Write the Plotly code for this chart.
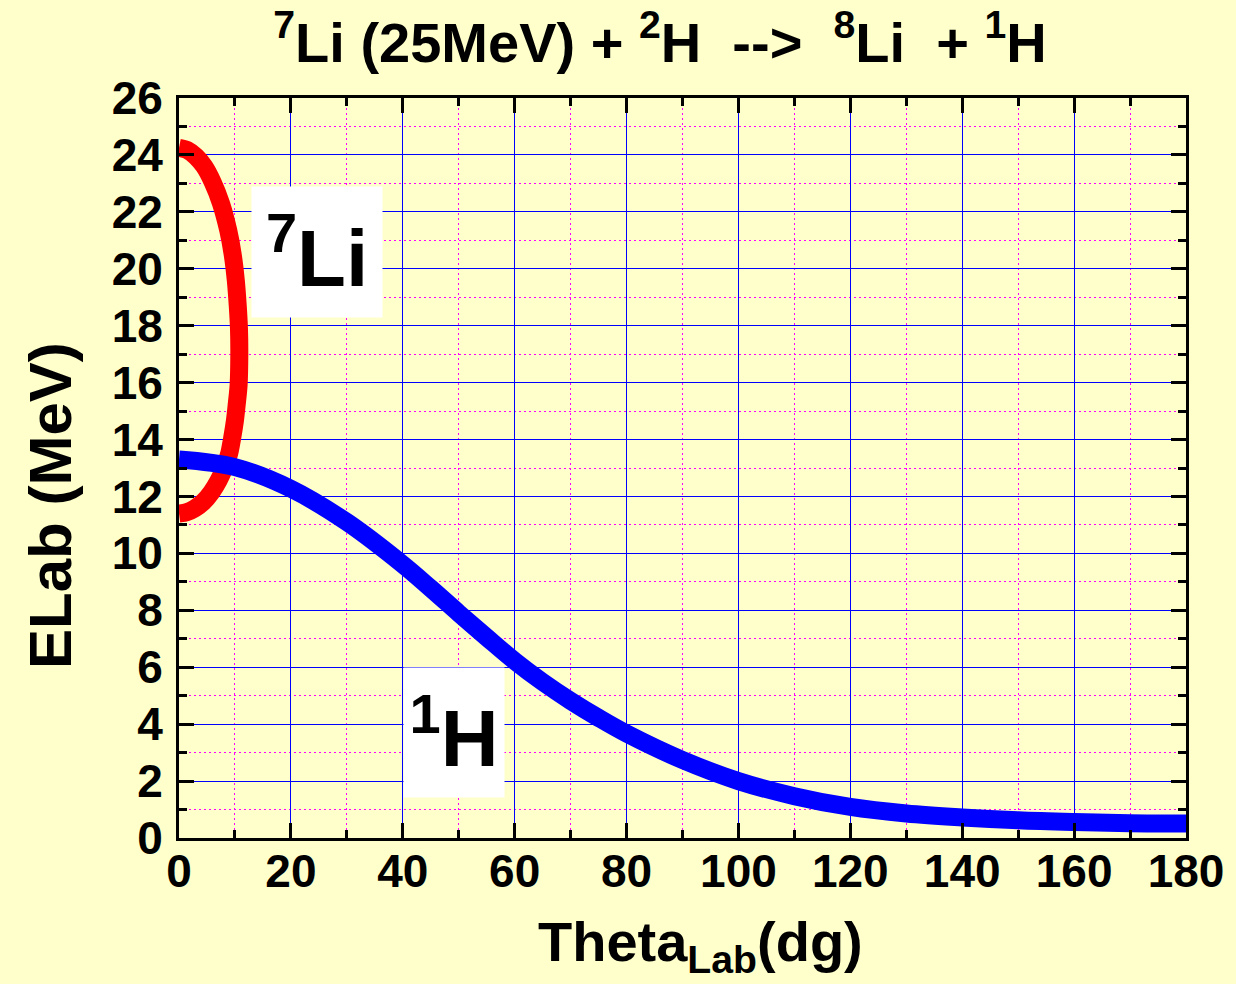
import plotly.graph_objects as go

# Lab energy vs lab angle for 7Li (25 MeV) + 2H --> 8Li + 1H
li7_theta = [0.0, 1.5, 3.0, 4.5, 6.0, 7.5, 8.8, 9.6, 10.15, 10.5, 10.72, 10.78,
             10.65, 10.3, 10.0, 9.5, 8.96, 8.1, 7.1, 5.8, 4.3, 2.8, 1.4, 0.0]
li7_energy = [24.25, 24.17, 23.95, 23.6, 23.05, 22.3, 21.35, 20.5, 19.6, 18.7, 17.9, 17.0,
              15.9, 15.2, 14.67, 14.05, 13.5, 13.0, 12.57, 12.15, 11.8, 11.58, 11.45, 11.4]

h1_theta = [0, 10, 20, 30, 40, 45, 50, 55, 60, 65, 70, 75, 80, 90, 100, 110, 120,
            130, 140, 150, 160, 170, 180]
h1_energy = [13.3, 13.03, 12.27, 11.1, 9.61, 8.77, 7.9, 7.05, 6.22, 5.48, 4.82, 4.22, 3.67,
             2.74, 2.0, 1.47, 1.09, 0.86, 0.72, 0.62, 0.56, 0.52, 0.51]

x_ticks = list(range(0, 181, 20))
y_ticks = list(range(0, 27, 2))

FONT = "Liberation Sans, Arial, sans-serif"
BG = "#FFFFCC"

fig = go.Figure()
fig.add_trace(go.Scatter(x=li7_theta, y=li7_energy, mode="lines",
                         line=dict(color="#FF0000", width=18, shape="spline", smoothing=0.8),
                         showlegend=False, hoverinfo="skip"))
fig.add_trace(go.Scatter(x=h1_theta, y=h1_energy, mode="lines",
                         line=dict(color="#0000FF", width=18, shape="spline", smoothing=1.0),
                         showlegend=False, hoverinfo="skip"))

axis_common = dict(
    showline=True, linecolor="black", linewidth=3, mirror="ticks",
    ticks="inside", ticklen=15, tickwidth=3, tickcolor="black",
    showgrid=True, gridcolor="#0000FF", gridwidth=1,
    zeroline=False,
    tickfont=dict(family=FONT, size=46, color="black", weight="bold"),
)

fig.update_xaxes(
    range=[0, 180], tickvals=x_ticks, ticktext=[str(v) for v in x_ticks],
    minor=dict(dtick=10, tick0=0, ticks="inside", ticklen=8, tickwidth=3, tickcolor="black",
               showgrid=True, gridcolor="#FF00FF", gridwidth=1, griddash="2px,3px"),
    ticklabelstandoff=-9,
    **axis_common,
)
fig.update_yaxes(
    range=[0, 26], tickvals=y_ticks, ticktext=[str(v) for v in y_ticks],
    minor=dict(dtick=1, tick0=0, ticks="inside", ticklen=8, tickwidth=3, tickcolor="black",
               showgrid=True, gridcolor="#FF00FF", gridwidth=1, griddash="2px,3px"),
    ticklabelstandoff=4,
    **axis_common,
)

# curve labels on white boxes
fig.add_annotation(x=24.75, y=20.58, xref="x", yref="y", text="<sup>7</sup>Li",
                   showarrow=False, bgcolor="white", width=130, height=130, borderpad=0,
                   xanchor="center", yanchor="middle",
                   font=dict(family=FONT, size=80, color="black", weight="bold"))
fig.add_annotation(x=49.1, y=3.69, xref="x", yref="y", text="<sup>1</sup>H",
                   showarrow=False, bgcolor="white", width=100, height=129, borderpad=0,
                   xanchor="center", yanchor="middle",
                   font=dict(family=FONT, size=80, color="black", weight="bold"))

# axis titles (paper coordinates are relative to the plotting area)
fig.add_annotation(x=(703 - 179) / 1011, y=(837.5 - 945) / 739.8, xref="paper", yref="paper",
                   text="Theta<sub>Lab</sub>(dg)", showarrow=False,
                   xanchor="center", yanchor="middle",
                   font=dict(family=FONT, size=56, color="black", weight="bold"))
fig.add_annotation(x=(50 - 179) / 1011, y=(837.5 - 505) / 739.8, xref="paper", yref="paper",
                   text="ELab (MeV)", showarrow=False, textangle=-90,
                   xanchor="center", yanchor="middle",
                   font=dict(family=FONT, size=60, color="black", weight="bold"))

fig.update_layout(
    width=1236, height=984,
    margin=dict(l=179, r=46, t=98, b=146),
    paper_bgcolor=BG, plot_bgcolor=BG,
    title=dict(text="<sup>7</sup>Li (25MeV) + <sup>2</sup>H  -->  <sup>8</sup>Li  + <sup>1</sup>H",
               x=660 / 1236, xanchor="center", xref="container",
               y=1 - 42 / 984, yanchor="middle", yref="container",
               font=dict(family=FONT, size=56, color="black", weight="bold")),
)

fig.write_html("out.html")
